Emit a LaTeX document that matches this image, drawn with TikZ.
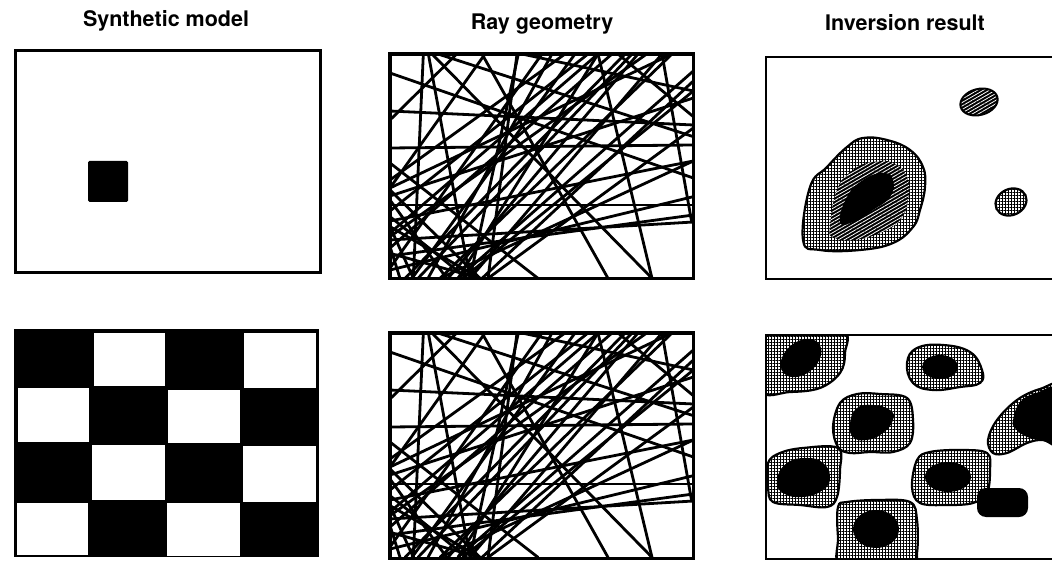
\documentclass[tikz,border=0pt]{standalone}
\usepackage{fontspec}
\setmainfont{TeX Gyre Heros}
\usetikzlibrary{patterns.meta}
\tikzset{
  frame/.style={draw=black, line width=3pt},
  ray/.style={line width=2.8pt, line cap=round},
  title/.style={font=\fontsize{21.5}{25}\selectfont\bfseries, anchor=base},
  stip/.style={preaction={fill=white}, pattern={Hatch[angle=0,distance=3pt,line width=0.5pt]}, pattern color=black, draw=black, line width=2.2pt},
  hatchd/.style={preaction={fill=black}, pattern={Lines[angle=30,distance=3pt,line width=0.8pt]}, pattern color=white},
  core/.style={fill=black},
}
\newcommand{\raylines}{%
  \foreach \a/\b/\c/\d in {
    130/42/100/715, 145/42/270/715, 30/240/230/42, 30/99/940/414,
    306/42/684/715, 654/42/816/715, 411/42/324/715, 846/42/935/546,
    156/42/816/715, 30/369/474/715, 30/324/940/315, 30/495/940/495,
    30/213/940/255, 30/543/940/363, 30/648/940/525, 30/600/940/546,
    30/420/555/42, 30/579/654/42, 30/624/696/42, 75/715/735/42,
    114/715/756/42, 204/715/774/42, 234/715/940/93, 306/715/940/123,
    30/684/486/42, 249/715/940/153, 96/715/585/42, 324/715/940/264,
    30/468/940/174, 144/715/516/42, 30/444/876/42, 174/42/940/290,
    426/42/940/153, 30/513/624/42, 876/42/180/715, 714/42/940/230,
    315/42/30/444, 180/715/940/363,
    30/560/300/715, 30/690/940/470, 270/715/415/42, 30/530/260/715,
    30/450/300/715, 100/715/30/560, 200/715/30/480, 300/715/30/640,
    30/590/800/42, 234/715/654/42, 270/715/846/42, 60/715/30/620}
    {\draw[ray] (\a,\b) -- (\c,\d);}%
}
\begin{document}
\begin{tikzpicture}[x=1pt,y=-1pt]
\useasboundingbox (0,0) rectangle (1052,561);
\fill[white] (0,0) rectangle (1052,561);

% titles
\node[title] (t1) at (166,27) {Synthetic model};
\node[title] (t2) at (542,30) {Ray geometry};
\node[title] (t3) at (905,31) {Inversion result};

% top-left: synthetic model with one block
\draw[frame] (15,51) rectangle (320,273);
\fill[rounded corners=1.5pt] (88,161) rectangle (128,202);

% bottom-left: checkerboard
\fill[black] (14,329) rectangle (319,557);
\fill[white] (94,333) rectangle (165,386);
\fill[white] (244,333) rectangle (316,388);
\fill[white] (18,388) rectangle (89,442);
\fill[white] (168,390) rectangle (240,443);
\fill[white] (92,445) rectangle (165,500);
\fill[white] (243,446) rectangle (316,502);
\fill[white] (17,503) rectangle (88,555);
\fill[white] (167,503) rectangle (240,556);

% ray panels
\begin{scope}[shift={(390,54)}]
  \begin{scope}[scale=1/3, shift={(-30,-42)}]
    \clip (30,42) rectangle (940,715);
    \raylines
  \end{scope}
\end{scope}
\draw[frame, line width=3.5pt] (390,54) rectangle (693.3,278.3);

\begin{scope}[shift={(390,333)}]
  \begin{scope}[scale=1/3, shift={(-30,-42)}]
    \clip (30,42) rectangle (940,715);
    \raylines
  \end{scope}
\end{scope}
\draw[frame, line width=3.5pt] (390,333) rectangle (693.3,558.3);

% top-right: inversion result 1
\begin{scope}
  \clip (766,57) rectangle (1060,279);
  \draw[stip] plot[smooth cycle, tension=0.7] coordinates {
    (803,240) (810,187) (827,167) (847,147) (863,138) (887,140)
    (910,150) (923,167) (925,187) (920,210) (913,227) (893,243)
    (860,250) (820,250)};
  \path[hatchd] plot[smooth cycle, tension=0.8] coordinates {
    (830,227) (837,190) (853,170) (873,162) (893,163) (907,177)
    (908,200) (900,220) (880,233) (853,240) (833,237)};
  \fill[core] plot[smooth cycle, tension=0.8] coordinates {
    (840,222) (847,197) (863,180) (883,173) (893,180) (890,197)
    (873,210) (853,222)};
  \path[hatchd, rotate around={15:(979,102)}] (979,102) ellipse [x radius=19, y radius=13];
  \draw[line width=2pt, rotate around={15:(979,102)}] (979,102) ellipse [x radius=19, y radius=13];
  \draw[stip, rotate around={25:(1011,202)}] (1011,202) ellipse [x radius=16, y radius=13];
\end{scope}
\draw[frame, line width=2.6pt] (766,57) rectangle (1070,279);

% bottom-right: inversion result 2
\begin{scope}
  \clip (766,335) rectangle (1060,559);
  % B1 top-left
  \draw[stip] plot[smooth cycle, tension=0.6] coordinates {
    (760,330) (840,330) (845,353) (840,373) (820,388) (790,392) (760,390)};
  \fill[core, rotate around={40:(801,358)}] (801,358) ellipse [x radius=23, y radius=16];
  % B2 top-centre
  \draw[stip] plot[smooth cycle, tension=0.7] coordinates {
    (907,363) (917,348) (943,345) (970,352) (982,370) (980,383)
    (960,387) (933,390) (913,383)};
  \fill[core] (940,367) ellipse [x radius=18, y radius=12];
  % B3 middle
  \draw[stip] plot[smooth cycle, tension=0.6] coordinates {
    (833,427) (840,403) (857,394) (880,394) (907,398) (913,420)
    (910,443) (893,452) (870,452) (850,453) (838,447)};
  \fill[core] plot[smooth cycle, tension=0.8] coordinates {
    (850,423) (857,408) (873,405) (890,410) (893,420) (883,433)
    (867,440) (853,437)};
  % B4 left middle
  \draw[stip] plot[smooth cycle, tension=0.6] coordinates {
    (768,463) (780,453) (803,448) (838,448) (840,470) (837,497)
    (827,507) (800,505) (773,502) (768,487)};
  \fill[core] plot[smooth cycle, tension=0.8] coordinates {
    (777,480) (787,463) (807,458) (823,463) (830,477) (823,490)
    (803,497) (783,493)};
  % B5 bottom centre
  \draw[stip] plot[smooth cycle, tension=0.6] coordinates {
    (838,507) (847,502) (877,500) (910,502) (917,520) (917,553)
    (910,570) (843,570) (838,537)};
  \fill[core] (876,529) ellipse [x radius=23, y radius=19];
  % B6 right centre
  \draw[stip] plot[smooth cycle, tension=0.6] coordinates {
    (912,487) (917,460) (930,452) (960,450) (987,453) (990,470)
    (987,493) (973,503) (947,505) (920,503)};
  \fill[core] (948,477) ellipse [x radius=23, y radius=15];
  % B7 black bar
  \fill[core, rounded corners=9pt] (977,488) rectangle (1028,517);
  % B8 right edge
  \draw[stip] plot[smooth cycle, tension=0.6] coordinates {
    (993,453) (988,440) (997,420) (1017,400) (1040,389) (1065,386)
    (1065,445) (1043,440) (1027,443) (1007,453)};
  \fill[core] plot[smooth cycle, tension=0.7] coordinates {
    (1013,420) (1020,402) (1036,393) (1060,390) (1060,440) (1040,440)
    (1025,436) (1015,428)};
\end{scope}
\draw[frame, line width=2.6pt] (766,335) rectangle (1070,559);
\end{tikzpicture}
\end{document}
